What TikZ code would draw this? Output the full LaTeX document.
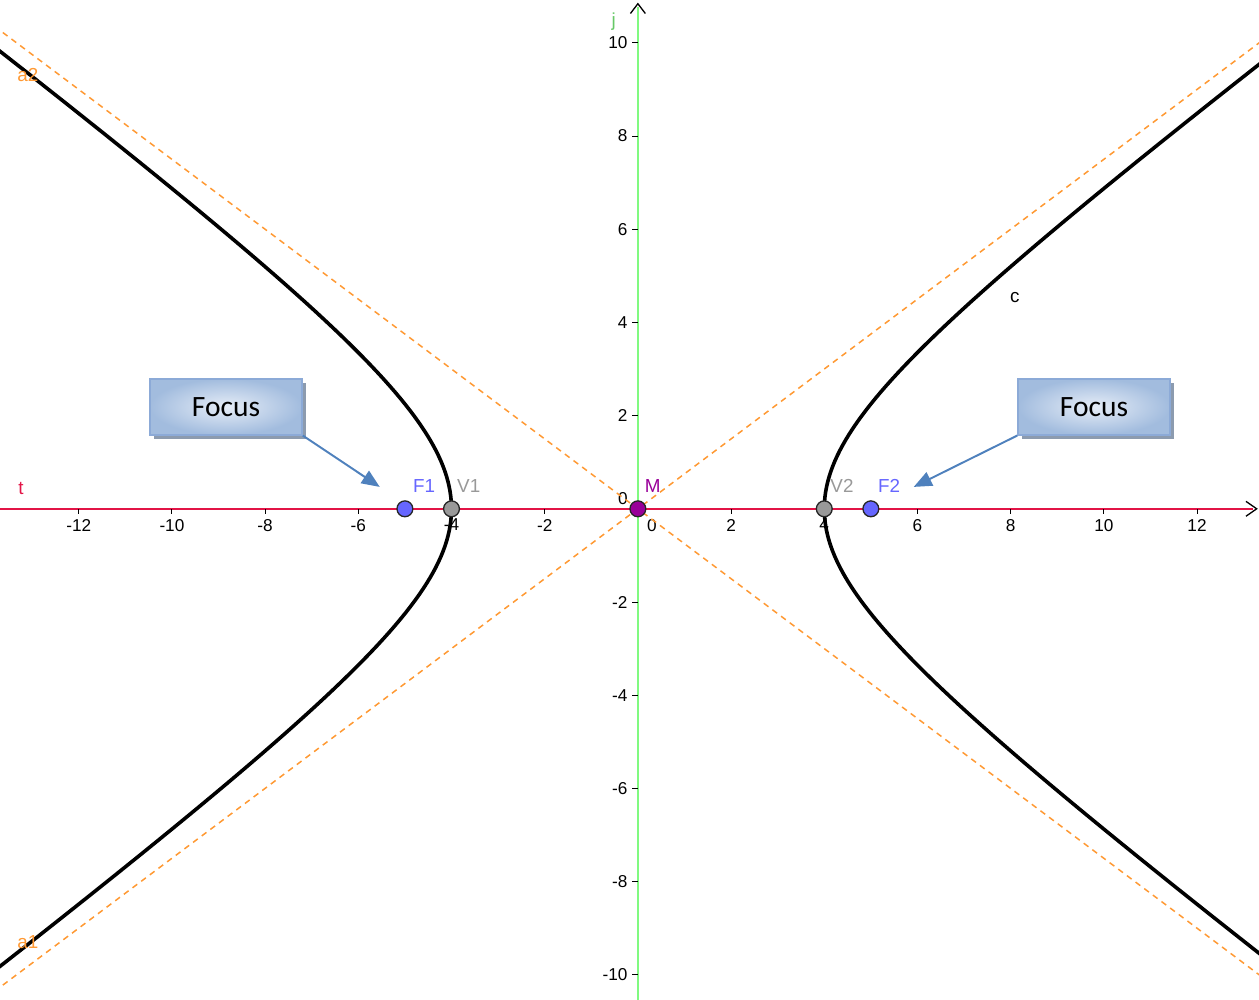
\documentclass[tikz,border=0pt]{standalone}
\usepackage{fontspec}
\setmainfont{Liberation Sans}
\newfontfamily\calibrifont{Carlito}
\usetikzlibrary{arrows.meta,shadows}

\definecolor{axisred}{RGB}{226,20,70}
\definecolor{axisgreen}{RGB}{128,250,128}
\definecolor{asymorange}{RGB}{255,153,51}
\definecolor{focusblue}{RGB}{102,102,255}
\definecolor{vertexgray}{RGB}{153,153,153}
\definecolor{centerpurple}{RGB}{153,0,153}
\definecolor{calloutblue}{RGB}{79,129,189}
\definecolor{boxdark}{RGB}{162,188,222}
\definecolor{boxlight}{RGB}{230,237,247}
\definecolor{boxedge}{RGB}{140,170,215}
\definecolor{boxshadow}{RGB}{140,155,175}

\begin{document}
\begin{tikzpicture}[font=\fontsize{10.5}{12}\selectfont,
	ticklab/.style={inner sep=1pt},
	ptlab/.style={font=\fontsize{11.5}{13}\selectfont, inner sep=0pt},
	pt/.style={circle, draw=black!85, line width=0.8pt, minimum size=0.34cm, inner sep=0pt},
	asym/.style={asymorange, line width=0.9pt, dash pattern=on 3.6pt off 3pt},
	curve/.style={black, line width=2.2pt},
	focusbox/.style={draw=boxedge, line width=1pt, minimum width=3.26cm, minimum height=1.2cm,
		inner color=boxlight, outer color=boxdark,
		drop shadow={shadow xshift=0.09cm, shadow yshift=-0.09cm, fill=boxshadow, opacity=1},
		font=\calibrifont\fontsize{18}{20}\selectfont},
	callout/.style={calloutblue, line width=1.2pt, -{Triangle[length=11pt, width=9pt]}}]

	\useasboundingbox (-13.69,-10.54) rectangle (13.33,10.92);
	\clip (-13.69,-10.54) rectangle (13.33,10.92);

	% Axes
	\draw[axisred, line width=1.3pt] (-13.7,0) -- (13.2,0);
	\draw[black, line width=0.8pt] (13.05,0.16) -- (13.28,0) -- (13.05,-0.16);
	\draw[axisgreen, line width=1.4pt] (0,-10.6) -- (0,10.78);
	\draw[black, line width=0.8pt] (-0.16,10.63) -- (0,10.84) -- (0.16,10.63);

	% Ticks and numbers
	\foreach \x in {-12,-10,-8,-6,-4,-2,2,4,6,8,10,12} {
		\draw[black, line width=0.6pt] (\x,0) -- (\x,-0.12);
		\node[ticklab, anchor=north] (xt\x) at (\x,-0.18) {\x};
	}
	\foreach \y in {-10,-8,-6,-4,-2,2,4,6,8,10} {
		\draw[black, line width=0.6pt] (0,\y) -- (-0.12,\y);
		\node[ticklab, anchor=east] (yt\y) at (-0.18,\y) {\y};
	}
	\node[ticklab] (xzero) at (0.3,-0.37) {0};
	\node[ticklab] (yzero) at (-0.32,0.21) {0};

	% Asymptotes
	\draw[asym] (-14,10.5) -- (14,-10.5);
	\draw[asym] (-14,-10.5) -- (14,10.5);

	% Hyperbola c
	\draw[curve] plot[domain=-2.1:2.1, samples=120] ({4*cosh(\x)},{3*sinh(\x)});
	\draw[curve] plot[domain=-2.1:2.1, samples=120] ({-4*cosh(\x)},{3*sinh(\x)});

	% Object labels
	\node[ptlab, text=asymorange] (lbla2) at (-13.09,9.31) {a2};
	\node[ptlab, text=asymorange] (lbla1) at (-13.09,-9.29) {a1};
	\node[ptlab, text=black] (lblc) at (8.09,4.54) {c};
	\node[ptlab, text=axisred] (lblt) at (-13.24,0.43) {t};
	\node[ptlab, text=axisgreen!80!black] (lblj) at (-0.52,10.45) {j};

	% Points
	\node[pt, fill=focusblue] (F1) at (-5,0) {};
	\node[pt, fill=vertexgray] (V1) at (-4,0) {};
	\node[pt, fill=centerpurple] (M) at (0,0) {};
	\node[pt, fill=vertexgray] (V2) at (4,0) {};
	\node[pt, fill=focusblue] (F2) at (5,0) {};
	\node[ptlab, text=focusblue] at (-4.59,0.49) {F1};
	\node[ptlab, text=vertexgray] at (-3.63,0.49) {V1};
	\node[ptlab, text=centerpurple] at (0.32,0.49) {M};
	\node[ptlab, text=vertexgray] at (4.38,0.49) {V2};
	\node[ptlab, text=focusblue] at (5.39,0.49) {F2};

	% Callouts
	\node[focusbox] (focusL) at (-8.84,2.19) {Focus};
	\node[focusbox] (focusR) at (9.79,2.19) {Focus};
	\coordinate (tipL) at (-5.54,0.47);
	\coordinate (tipR) at (5.92,0.47);
	\draw[callout] (focusL.south east) -- (tipL);
	\draw[callout] (focusR.south west) -- (tipR);
\end{tikzpicture}
\end{document}
